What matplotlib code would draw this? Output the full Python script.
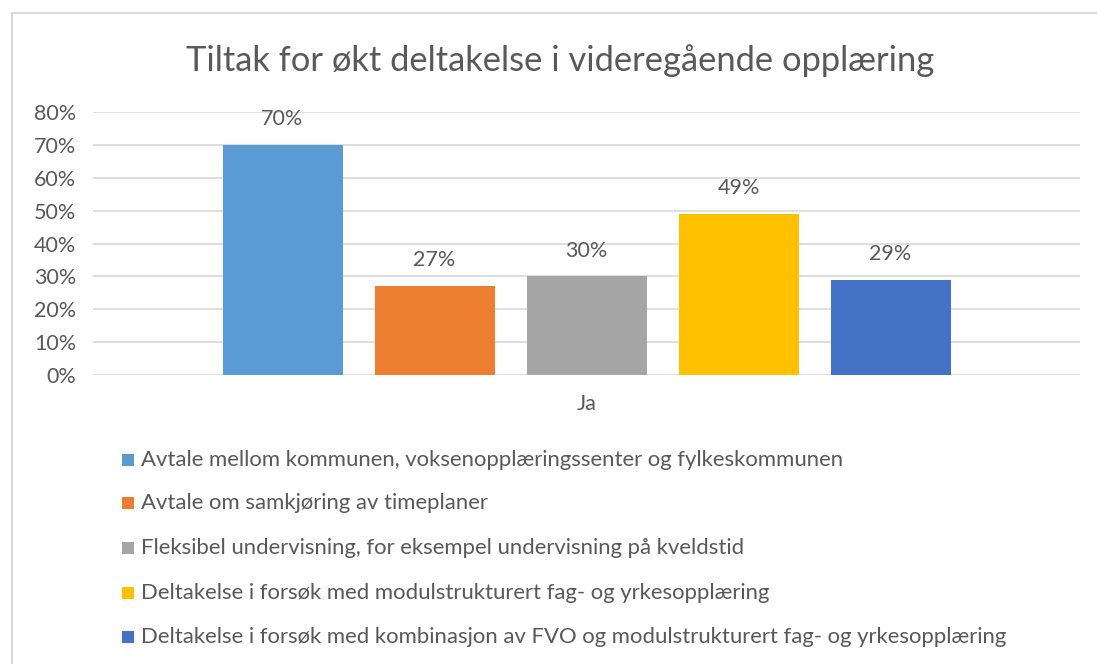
import matplotlib
matplotlib.use("Agg")
import matplotlib.pyplot as plt
from matplotlib.patches import Rectangle
import numpy as np

plt.rcParams['font.family'] = ['Lato', 'DejaVu Sans']

title = "Tiltak for økt deltakelse i videregående opplæring"
category = "Ja"
series = [
    "Avtale mellom kommunen, voksenopplæringssenter og fylkeskommunen",
    "Avtale om samkjøring av timeplaner",
    "Fleksibel undervisning, for eksempel undervisning på kveldstid",
    "Deltakelse i forsøk med modulstrukturert fag- og yrkesopplæring",
    "Deltakelse i forsøk med kombinasjon av FVO og modulstrukturert fag- og yrkesopplæring",
]
values = [0.70, 0.27, 0.30, 0.49, 0.29]
colors = ["#5B9BD5", "#ED7D31", "#A5A5A5", "#FFC000", "#4472C4"]
yticks = [0, 0.1, 0.2, 0.3, 0.4, 0.5, 0.6, 0.7, 0.8]

W, H = 1097, 664
fig = plt.figure(figsize=(W / 100, H / 100), dpi=100)
txt = "#595959"

# border
fig.patches.append(Rectangle((12 / W, -0.05), (W - 12) / W + 0.05, (H - 13) / H + 0.05, transform=fig.transFigure,
                             fill=False, edgecolor="#D9D9D9", linewidth=1.5))

left, right, top, bottom = 93, 1080, 112, 375
ax = fig.add_axes([left / W, 1 - bottom / H, (right - left) / W, (bottom - top) / H])

n = len(values)
bw = 120 / 987
step = 152 / 987
xs = 0.5 + (np.arange(n) - (n - 1) / 2) * step
for x, v, c, s in zip(xs, values, colors, series):
    ax.bar(x, v, width=bw, color=c, label=s, zorder=3)
    ax.text(x, v + 0.048, f"{round(v * 100)}%", ha="center", va="bottom", fontsize=15.5, color=txt)

ax.set_xlim(0, 1)
ax.set_ylim(0, 0.8)
ax.set_yticks(yticks)
ax.set_yticklabels([f"{int(round(t * 100))}%" for t in yticks], fontsize=15.5, color=txt)
ax.set_xticks([0.5])
ax.set_xticklabels([category], fontsize=15.5, color=txt)
ax.tick_params(length=0)
ax.tick_params(axis='y', pad=12)
ax.tick_params(axis='x', pad=14)
ax.grid(axis='y', color="#D9D9D9", linewidth=1.2, zorder=0)
for sp in ax.spines.values():
    sp.set_visible(False)

fig.text(560 / W, 1 - 61 / H, title, ha="center", va="center", fontsize=24.8, color=txt)

# legend
rows = [460, 503, 548, 593, 637]
for y, c, s in zip(rows, colors, series):
    fig.patches.append(Rectangle((122 / W, 1 - (y + 6) / H), 12 / W, 12 / H, transform=fig.transFigure,
                                 facecolor=c, edgecolor="none"))
    fig.text(141 / W, 1 - y / H, s, ha="left", va="center", fontsize=15.9, color=txt)

fig.savefig("out.png", dpi=100)
